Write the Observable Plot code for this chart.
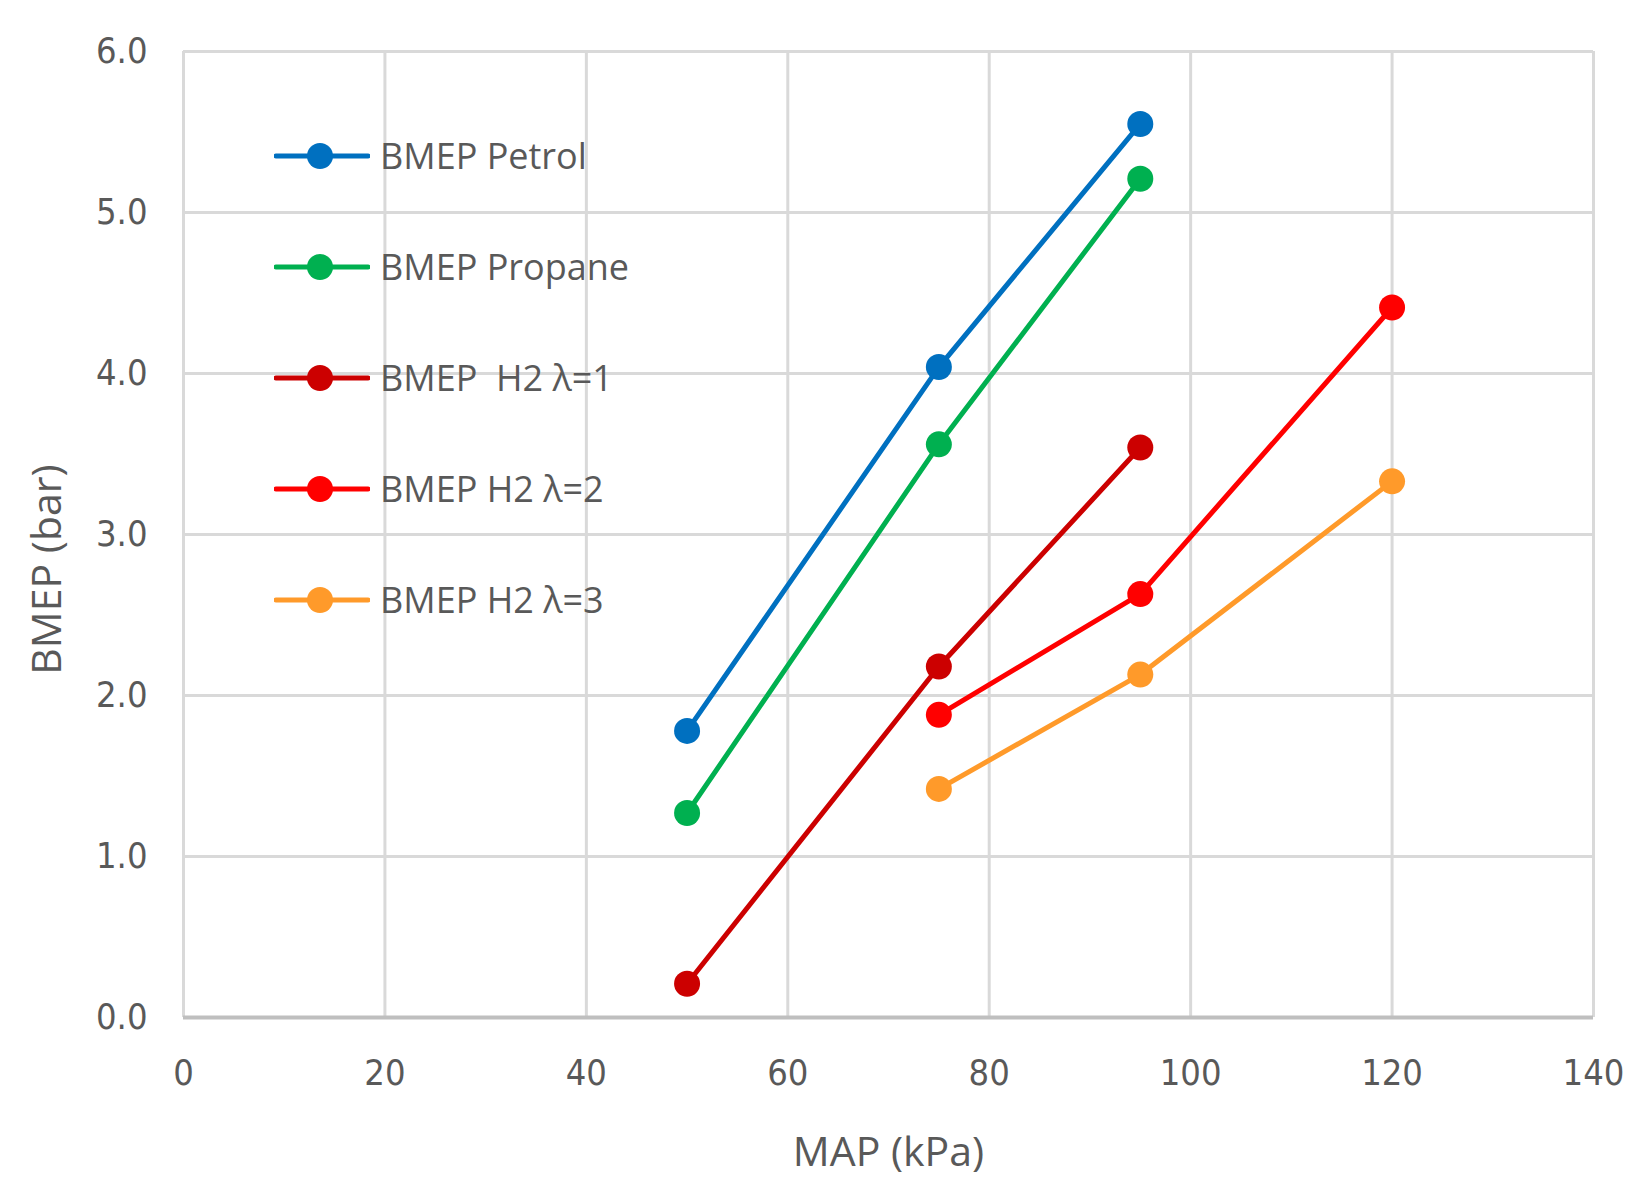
<!DOCTYPE html>
<html>
<head>
<meta charset="utf-8">
<script src="https://cdn.jsdelivr.net/npm/d3@7"></script>
<script src="https://cdn.jsdelivr.net/npm/@observablehq/plot@0.6"></script>
<style>
  body { margin: 0; background: #fff; }
  #wrap { position: relative; width: 1651px; height: 1191px; font-family: "Open Sans", sans-serif; }
  #legend { position: absolute; left: 274px; top: 100px; }
  .row { display: flex; align-items: center; height: 111px; }
  .row span { font-size: 36px; color: #595959; margin-left: 10px; white-space: pre; }
</style>
</head>
<body>
<div id="wrap"><div id="chart"></div><div id="legend"></div></div>
<script>
// series names and colours
const series = ["BMEP Petrol", "BMEP Propane", "BMEP  H2 λ=1", "BMEP H2 λ=2", "BMEP H2 λ=3"];
const colors = ["#0070C0", "#00B050", "#CC0000", "#FF0000", "#FF9A2A"];

// MAP (kPa) for each series
const mapPetrol = [50, 75, 95];
const mapPropane = [50, 75, 95];
const mapH2l1 = [50, 75, 95];
const mapH2l2 = [75, 95, 120];
const mapH2l3 = [75, 95, 120];

// BMEP (bar)
const bmepPetrol = [1.78, 4.04, 5.55];
const bmepPropane = [1.27, 3.56, 5.21];
const bmepH2l1 = [0.21, 2.18, 3.54];
const bmepH2l2 = [1.88, 2.63, 4.41];
const bmepH2l3 = [1.42, 2.13, 3.33];

const xTicks = [0, 20, 40, 60, 80, 100, 120, 140];
const yTicks = [0, 1, 2, 3, 4, 5, 6];

const xs = [mapPetrol, mapPropane, mapH2l1, mapH2l2, mapH2l3];
const ys = [bmepPetrol, bmepPropane, bmepH2l1, bmepH2l2, bmepH2l3];
const data = series.flatMap((s, i) => xs[i].map((x, j) => ({series: s, map: x, bmep: ys[i][j]})));

const chart = Plot.plot({
  width: 1651,
  height: 1191,
  marginLeft: 183,
  marginRight: 58,
  marginTop: 51,
  marginBottom: 174,
  style: { fontFamily: "'Liberation Sans Narrow', 'DejaVu Sans Condensed', sans-serif", fontSize: "36px", color: "#595959" },
  x: { domain: [0, 140], ticks: xTicks, tickSize: 0, tickPadding: 42, label: "MAP (kPa)", labelArrow: false, labelAnchor: "center", labelOffset: 148 },
  y: { domain: [0, 6], ticks: yTicks, tickSize: 0, tickPadding: 36, tickFormat: d3.format(".1f"), label: "BMEP (bar)", labelArrow: false, labelAnchor: "center", labelOffset: 152 },
  color: { domain: series, range: colors },
  marks: [
    Plot.gridX(xTicks, { stroke: "#D9D9D9", strokeOpacity: 1, strokeWidth: 3 }),
    Plot.gridY(yTicks, { stroke: "#D9D9D9", strokeOpacity: 1, strokeWidth: 3 }),
    Plot.ruleY([0], { stroke: "#BFBFBF", strokeWidth: 4 }),
    Plot.line(data, { x: "map", y: "bmep", z: "series", stroke: "series", strokeWidth: 5 }),
    Plot.dot(data, { x: "map", y: "bmep", fill: "series", r: 13 })
  ]
});
d3.select("#chart").append(() => chart);
d3.select(chart).selectAll("[aria-label='x-axis label'] text, [aria-label='y-axis label'] text")
  .style("font-family", "'Open Sans', sans-serif").style("font-size", "41px");
// the reference's y title sits a little below the plot centre
d3.select(chart).selectAll("[aria-label='y-axis label'] text").attr("x", -35);

// legend drawn inside the plot area, top-left
const legend = d3.select("#legend");
series.forEach((s, i) => {
  const row = legend.append("div").attr("class", "row");
  const sw = row.append("svg").attr("width", 96).attr("height", 30);
  sw.append("line").attr("x1", 2).attr("x2", 94).attr("y1", 15).attr("y2", 15)
    .attr("stroke", colors[i]).attr("stroke-width", 5).attr("stroke-linecap", "round");
  sw.append("circle").attr("cx", 46).attr("cy", 15).attr("r", 13).attr("fill", colors[i]);
  row.append("span").text(s);
});
</script>
</body>
</html>
